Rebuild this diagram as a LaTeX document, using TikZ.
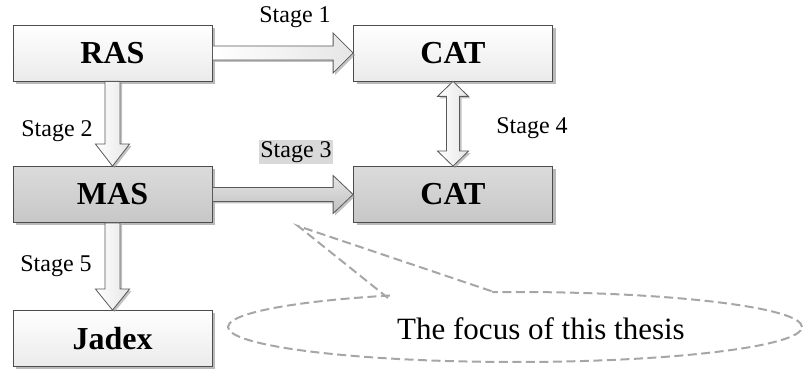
\documentclass[tikz,border=0pt]{standalone}
\usepackage{fontspec}
\setmainfont{Liberation Serif}
\usetikzlibrary{calc,shadows,shapes.geometric}
\begin{document}
\begin{tikzpicture}[x=1pt,y=-1pt,
  boxbase/.style={draw=black!70,line width=0.8pt,minimum width=199pt,minimum height=56pt,
    inner sep=0pt,font=\fontsize{32}{36}\selectfont\bfseries,
    drop shadow={shadow xshift=3pt,shadow yshift=-3pt,fill=black!45,opacity=0.6}},
  lightbox/.style={boxbase,top color=white,bottom color=black!8},
  darkbox/.style={boxbase,top color=black!14,bottom color=black!22},
  blockarr/.style={draw=black!65,line width=0.8pt,line join=miter,
    drop shadow={shadow xshift=2pt,shadow yshift=-2pt,fill=black!40,opacity=0.6}},
  lightarr/.style={blockarr,left color=white,right color=black!10},
  darkarr/.style={blockarr,top color=black!10,bottom color=black!25},
  stagelbl/.style={font=\fontsize{24}{28}\selectfont,inner sep=1pt},
  callout/.style={draw=black!35,line width=2pt,dash pattern=on 9pt off 4.5pt}]
\useasboundingbox (0,0) rectangle (812,371);

% boxes
\node[lightbox] (ras)   at (112.5,53)  {RAS};
\node[lightbox] (cattop) at (453,53)   {CAT};
\node[darkbox]  (mas)   at (112.5,194.5) {MAS};
\node[darkbox]  (catbot) at (453,194.5) {CAT};
\node[lightbox] (jadex) at (112.5,338.5) {Jadex};

% Stage 1: RAS -> CAT
\draw[lightarr] ($(ras.east)+(0,-7)$) -- ($(cattop.west)+(-20,-7)$) -- ($(cattop.west)+(-20,-20)$)
  -- (cattop.west) -- ($(cattop.west)+(-20,20)$) -- ($(cattop.west)+(-20,7)$) -- ($(ras.east)+(0,7)$) -- cycle;
% Stage 3: MAS -> CAT
\draw[darkarr] ($(mas.east)+(0,-7)$) -- ($(catbot.west)+(-20,-7)$) -- ($(catbot.west)+(-20,-19)$)
  -- (catbot.west) -- ($(catbot.west)+(-20,19)$) -- ($(catbot.west)+(-20,7)$) -- ($(mas.east)+(0,7)$) -- cycle;
% Stage 2: RAS -> MAS
\draw[lightarr] ($(ras.south)+(-7.5,0)$) -- ($(mas.north)+(-7.5,-22)$) -- ($(mas.north)+(-17,-22)$)
  -- (mas.north) -- ($(mas.north)+(17,-22)$) -- ($(mas.north)+(7.5,-22)$) -- ($(ras.south)+(7.5,0)$) -- cycle;
% Stage 5: MAS -> Jadex
\draw[lightarr] ($(mas.south)+(-7.5,0)$) -- ($(jadex.north)+(-7.5,-21)$) -- ($(jadex.north)+(-17,-21)$)
  -- (jadex.north) -- ($(jadex.north)+(17,-21)$) -- ($(jadex.north)+(7.5,-21)$) -- ($(mas.south)+(7.5,0)$) -- cycle;
% Stage 4: CAT <-> CAT
\draw[lightarr] (cattop.south) -- ($(cattop.south)+(15.5,15)$) -- ($(cattop.south)+(6.5,15)$)
  -- ($(catbot.north)+(6.5,-15)$) -- ($(catbot.north)+(15.5,-15)$) -- (catbot.north)
  -- ($(catbot.north)+(-15.5,-15)$) -- ($(catbot.north)+(-6.5,-15)$) -- ($(cattop.south)+(-6.5,15)$)
  -- ($(cattop.south)+(-15.5,15)$) -- cycle;

% stage labels
\node[stagelbl] (s1) at (295,17) {Stage 1};
\node[stagelbl] (s2) at (57,131) {Stage 2};
\node[stagelbl,fill=black!15] (s3) at (296,152) {Stage 3};
\node[stagelbl] (s4) at (532,128) {Stage 4};
\node[stagelbl] (s5) at (56,266) {Stage 5};

% callout bubble with pointer
\coordinate (tip) at (298,226);
\coordinate (bubble) at (515,327);
\draw[callout] (bubble) ellipse[x radius=287pt,y radius=35pt];
\fill[white] (390,292) -- (tip) -- (492,290) -- (492,296) -- (390,300) -- cycle;
\draw[callout] (388,298) -- (tip) -- (494,292);
\node[font=\fontsize{31}{34}\selectfont,inner sep=0pt] (focus) at (541,329) {The focus of this thesis};
\end{tikzpicture}
\end{document}
